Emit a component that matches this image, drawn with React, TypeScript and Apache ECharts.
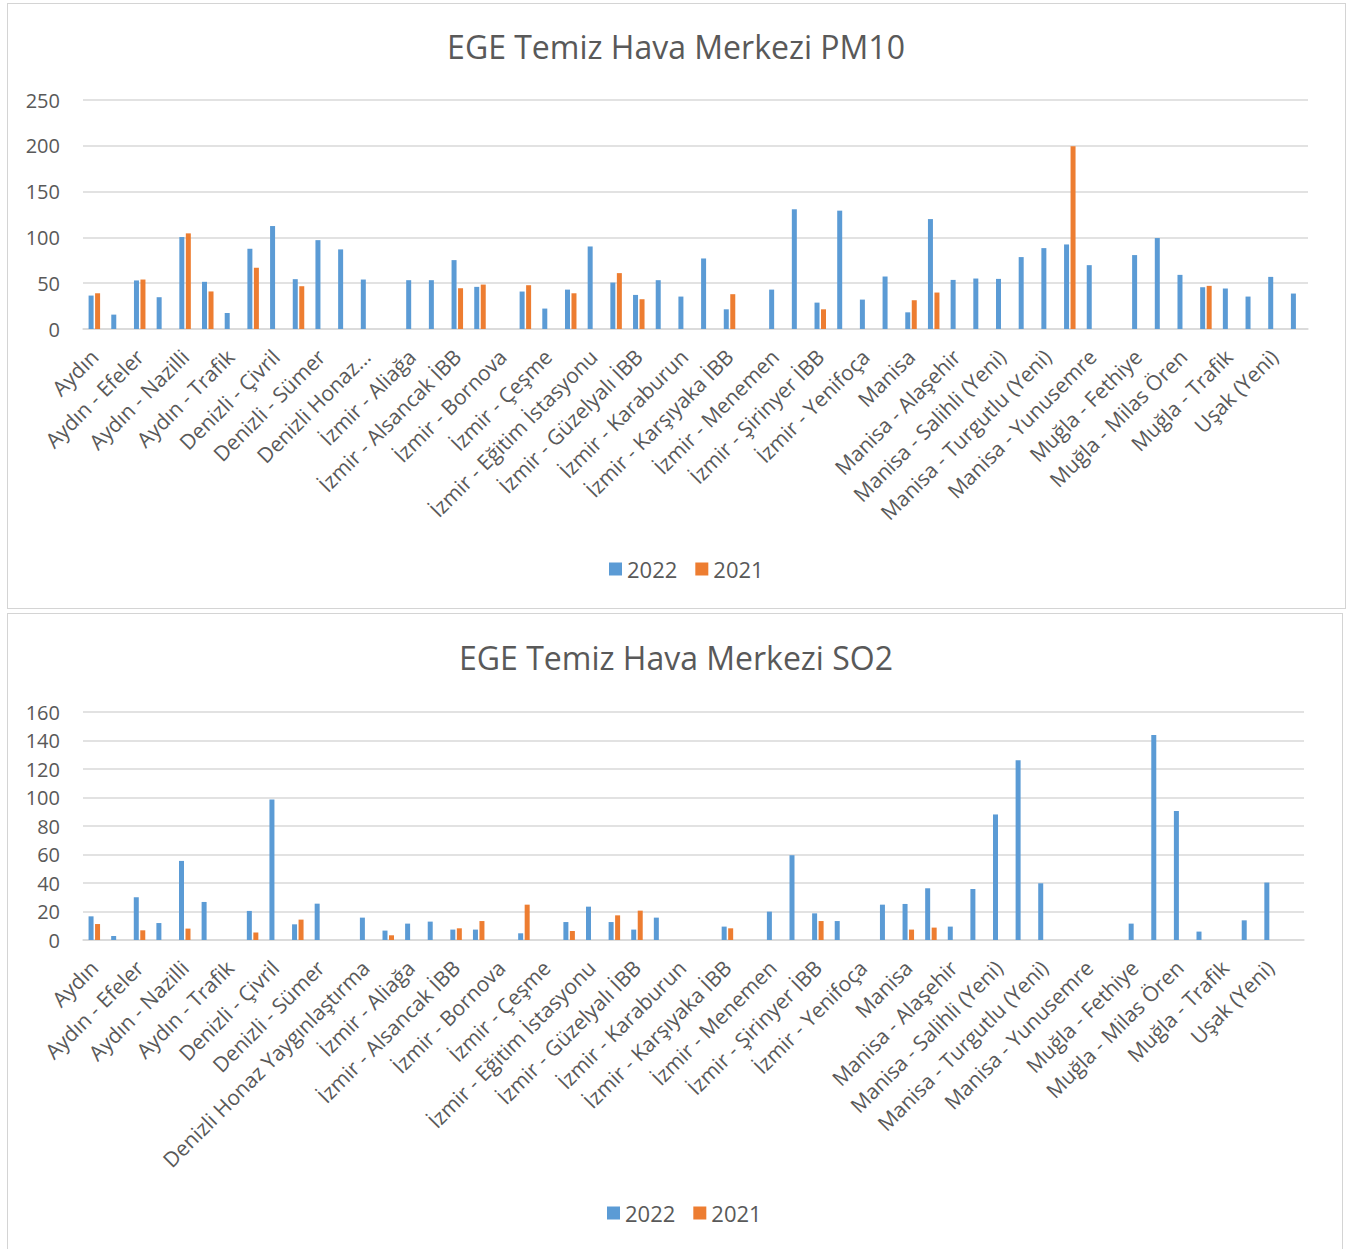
import React, { useEffect, useRef } from 'react';
import * as echarts from 'echarts';

const _ = null;
const FONT = '"Open Sans", "Noto Sans", sans-serif';

const stations = [
  'Aydın', 'Aydın - Didim', 'Aydın - Efeler', 'Aydın - Kuşadası', 'Aydın - Nazilli',
  'Aydın - Söke', 'Aydın - Trafik', 'Denizli', 'Denizli - Çivril', 'Denizli - Merkezefendi',
  'Denizli - Sümer', 'Denizli - Trafik', 'Denizli Honaz Yaygınlaştırma', 'İzmir', 'İzmir - Aliağa',
  'İzmir - Aliağa Horozgediği', 'İzmir - Alsancak İBB', 'İzmir - Bayraklı İBB', 'İzmir - Bornova', 'İzmir - Bozyaka',
  'İzmir - Çeşme', 'İzmir - Çiğli İBB', 'İzmir - Eğitim İstasyonu', 'İzmir - Gaziemir İBB', 'İzmir - Güzelyalı İBB',
  'İzmir - Kadifekale', 'İzmir - Karaburun', 'İzmir - Karabağlar', 'İzmir - Karşıyaka İBB', 'İzmir - Kemalpaşa',
  'İzmir - Menemen', 'İzmir - Sevgi Yolu İBB', 'İzmir - Şirinyer İBB', 'İzmir - Torbalı', 'İzmir - Yenifoça',
  'İzmir - Urla', 'Manisa', 'Manisa - Akhisar', 'Manisa - Alaşehir', 'Manisa - Demirci',
  'Manisa - Salihli (Yeni)', 'Manisa - Soma', 'Manisa - Turgutlu (Yeni)', 'Manisa - Turgutlu', 'Manisa - Yunusemre',
  'Muğla - Bodrum', 'Muğla - Fethiye', 'Muğla - Milas', 'Muğla - Milas Ören', 'Muğla - Menteşe',
  'Muğla - Trafik', 'Muğla - Yatağan', 'Uşak (Yeni)', 'Uşak - Trafik',
];

const years = ['2022', '2021'];

const pm10_2022 = [
  36.5, 15.7, 53, 34.7, 100.4, 51.5, 17.5, 87.6, 112.4, 54.4,
  97, 86.9, 54, _, 53.3, 53.3, 75.2, 46, _, 40.9,
  22.3, 43, 90.1, 50.7, 37.2, 53.3, 35.4, 77, 21.5, _,
  43, 130.7, 28.8, 129.2, 32.1, 57.3, 18.2, 120, 53.6, 55.1,
  54.7, 78.5, 88.3, 92.3, 69.7, _, 80.7, 99.3, 59.1, 45.6,
  44.2, 35.4, 56.9, 38.7,
];
const pm10_2021 = [
  39, _, 54, _, 104.4, 41, _, 67, _, 46.7,
  _, _, _, _, _, _, 44.5, 48.5, _, 47.8,
  _, 39, _, 61, 32.5, _, _, _, 38, _,
  _, _, 21.5, _, _, _, 31.4, 39.8, _, _,
  _, _, _, 199.6, _, _, _, _, _, 47.1,
  _, _, _, _,
];
const so2_2022 = [
  16.6, 2.8, 30, 11.9, 55.5, 26.7, _, 20.4, 98.6, 11,
  25.5, _, 15.7, 6.6, 11.5, 12.9, 7.3, 7.3, _, 4.7,
  _, 12.6, 23.4, 12.6, 7.3, 15.7, _, _, 9.4, _,
  19.9, 59.5, 18.7, 13.3, _, 24.8, 25.3, 36.3, 9.4, 35.8,
  88.1, 126.2, 39.8, _, _, _, 11.5, 143.8, 90.6, 5.9,
  _, 13.8, 40.3, _,
];
const so2_2021 = [
  11.2, _, 6.8, _, 8, _, _, 5.2, _, 14.3,
  _, _, _, 3.3, _, _, 8.2, 13.3, _, 24.8,
  _, 6.3, _, 17.3, 20.6, _, _, _, 8.2, _,
  _, _, 13.3, _, _, _, 7.3, 8.7, _, _,
  _, _, _, _, _, _, _, _, _, _,
  _, _, _, _,
];

const pm10Axis = { min: 0, max: 250, interval: 50 };
const so2Axis = { min: 0, max: 160, interval: 20 };

const TEXT = '#595959';
const GRID = '#d9d9d9';

function buildOption(
  title: string,
  d22: (number | null)[],
  d21: (number | null)[],
  axis: { min: number; max: number; interval: number },
  grid: any,
  legendTop: number,
  legendLeft: number,
  truncate: boolean,
) {
  return {
    animation: false,
    textStyle: { fontFamily: FONT },
    title: {
      text: title,
      left: 'center',
      top: 25,
      textStyle: { fontFamily: FONT, fontSize: 32, fontWeight: 'normal', color: TEXT },
    },
    legend: {
      data: years,
      top: legendTop,
      left: legendLeft,
      icon: 'rect',
      itemWidth: 13,
      itemHeight: 13,
      itemGap: 18,
      textStyle: { fontFamily: FONT, fontSize: 22, color: TEXT },
    },
    grid,
    xAxis: {
      type: 'category',
      data: stations,
      axisTick: { show: false },
      axisLine: { lineStyle: { color: GRID, width: 1.5 } },
      axisLabel: {
        interval: 1,
        rotate: 45,
        margin: 24,
        fontFamily: FONT,
        fontSize: 21,
        color: TEXT,
        formatter: (v: string) => (truncate && v.length > 26 ? v.slice(0, 13) + '...' : v),
      },
    },
    yAxis: {
      type: 'value',
      min: axis.min,
      max: axis.max,
      interval: axis.interval,
      axisLine: { show: false },
      axisTick: { show: false },
      splitLine: { lineStyle: { color: GRID, width: 1.5 } },
      axisLabel: { fontFamily: FONT, fontSize: 20, color: TEXT, margin: 23 },
    },
    series: [
      { name: years[0], type: 'bar', data: d22, barWidth: 5, barGap: '30%', itemStyle: { color: '#5B9BD5' } },
      { name: years[1], type: 'bar', data: d21, barWidth: 5, barGap: '30%', itemStyle: { color: '#ED7D31' } },
    ],
  };
}

function Chart({ option, top, height }: { option: any; top: number; height: number }) {
  const ref = useRef<HTMLDivElement>(null);
  useEffect(() => {
    if (!ref.current) return;
    const chart = echarts.init(ref.current, undefined, { renderer: 'svg' });
    chart.setOption(option);
    return () => chart.dispose();
  }, [option]);
  return <div ref={ref} style={{ position: 'absolute', left: 0, top, width: 1352, height }} />;
}

const pm10Option = buildOption(
  'EGE Temiz Hava Merkezi PM10',
  pm10_2022,
  pm10_2021,
  pm10Axis,
  { left: 83, top: 100, width: 1225, height: 229 },
  553,
  604,
  true,
);
const so2Option = buildOption(
  'EGE Temiz Hava Merkezi SO2',
  so2_2022,
  so2_2021,
  so2Axis,
  { left: 83, top: 101, width: 1221, height: 228 },
  586,
  602,
  false,
);

export default function App() {
  return (
    <div
      style={{
        position: 'absolute',
        left: 0,
        top: 0,
        width: 1352,
        height: 1249,
        overflow: 'hidden',
        background: '#fff',
      }}
    >
      <div
        style={{
          position: 'absolute',
          left: 7,
          top: 3,
          width: 1339,
          height: 606,
          border: '1px solid #d4d4d4',
          boxSizing: 'border-box',
        }}
      />
      <div
        style={{
          position: 'absolute',
          left: 7,
          top: 613,
          width: 1336,
          height: 700,
          border: '1px solid #d4d4d4',
          boxSizing: 'border-box',
        }}
      />
      <Chart option={pm10Option} top={0} height={610} />
      <Chart option={so2Option} top={611} height={638} />
    </div>
  );
}
